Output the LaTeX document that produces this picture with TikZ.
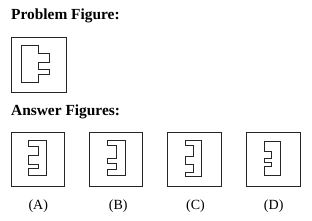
\documentclass[tikz,border=0pt]{standalone}
\usepackage{fontspec}
\setmainfont{Liberation Serif}
\tikzset{
  frame/.style={draw=black!85, line width=0.9pt},
  piece/.style={draw=black!85, line width=0.75pt, line join=miter},
  title/.style={anchor=base west, inner sep=0pt, font=\fontsize{15.4}{18}\selectfont\bfseries},
  optlabel/.style={anchor=base, inner sep=0pt, font=\fontsize{14}{16}\selectfont},
}
\newcommand\ansshape[9]{%
  % #1 L, #2 N, #3 R, #4..#9 y0..y5
  \draw[piece] (#1,#4) -- (#3,#4) -- (#3,#9) -- (#1,#9) -- (#1,#8) -- (#2,#8) -- (#2,#7)
    -- (#1,#7) -- (#1,#6) -- (#2,#6) -- (#2,#5) -- (#1,#5) -- cycle;}
\begin{document}
\begin{tikzpicture}[x=1pt,y=-1pt]
\useasboundingbox (0,0) rectangle (312,221);
% titles
\node[title] (ptitle) at (11,20) {Problem Figure:};
\node[title] (atitle) at (11,116) {Answer Figures:};
% problem figure
\draw[frame] (11,37) rectangle (66,92);
\draw[piece] (21,45) -- (38,45) -- (38,53) -- (49,53) -- (49,62) -- (38,62) -- (38,69)
  -- (49,69) -- (49,74) -- (38,74) -- (38,82) -- (21,82) -- cycle;
% answer frames
\draw[frame] (11,132) rectangle (64.5,186.5);
\draw[frame] (89,132) rectangle (142.5,186.5);
\draw[frame] (167.5,132) rectangle (221,186.5);
\draw[frame] (246.5,132) rectangle (300,186.5);
% answer shapes
\ansshape{28}{38}{46}{140}{146}{155.5}{164.3}{168.8}{175.5}
\ansshape{107}{116.5}{125}{140}{145}{158}{163.5}{169}{175.5}
\ansshape{185.5}{193.5}{201.5}{140}{145.5}{156.7}{164}{172}{176}
\ansshape{264}{271.5}{280}{141}{151}{158.5}{162.5}{166}{175.5}
% labels
\node[optlabel] (la) at (38.3,209) {(A)};
\node[optlabel] (lb) at (118.3,209) {(B)};
\node[optlabel] (lc) at (195.5,209) {(C)};
\node[optlabel] (ld) at (273.7,209) {(D)};
\end{tikzpicture}
\end{document}
